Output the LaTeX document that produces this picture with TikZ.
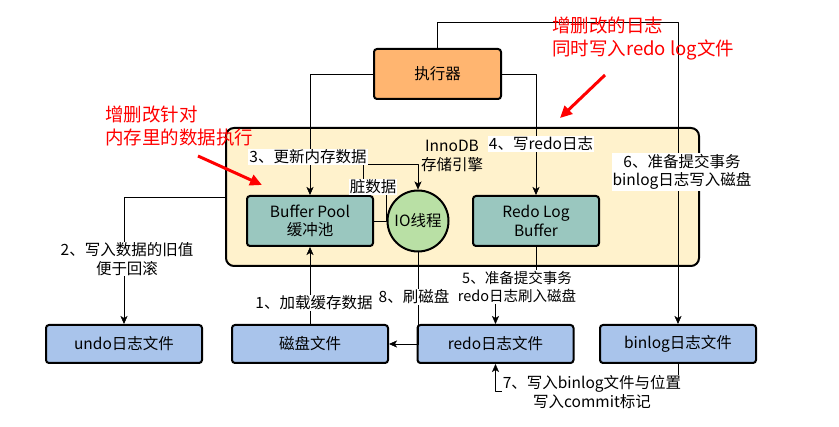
\documentclass[tikz,border=0pt]{standalone}
\usepackage{fontspec}
\setmainfont{Noto Sans CJK SC}
\usetikzlibrary{arrows.meta}
\definecolor{execfill}{HTML}{FFB570}
\definecolor{innofill}{HTML}{FFF2CC}
\definecolor{buffill}{HTML}{9AC7BF}
\definecolor{iofill}{HTML}{B9E0A5}
\definecolor{filefill}{HTML}{A9C4EB}
\tikzset{
  box/.style={draw, line width=2pt, rounded corners=3pt, align=center, inner sep=0pt},
  bufbox/.style={box, fill=buffill, minimum width=126, minimum height=50},
  filebox/.style={box, fill=filefill, minimum width=156, minimum height=38},
  lbl/.style={fill=white, inner sep=1pt, align=center},
  note/.style={text=red, align=left, inner sep=0pt, anchor=west, font=\fontsize{18.5}{23}\selectfont},
  redarr/.style={red, line width=3pt, -{Triangle[length=12pt,width=11pt]}},
}
\begin{document}
\begin{tikzpicture}[x=1pt,y=-1pt,>={Stealth[length=8pt,width=7pt,inset=2pt]},
    line join=round, font=\fontsize{15.5}{18.5}\selectfont]
  \useasboundingbox (0,0) rectangle (839,427);
  % storage engine block
  \node[box, fill=innofill, rounded corners=8pt, minimum width=473, minimum height=138] (inno) at (462.5,197) {};
  \node[align=center] (innotitle) at (452,156) {InnoDB\\存储引擎};
  \node[box, fill=execfill, minimum width=127, minimum height=50] (exec) at (437.5,74) {执行器};
  \node[bufbox] (pool) at (310,221) {Buffer Pool\\缓冲池};
  \node[bufbox] (rbuf) at (536,221) {Redo Log\\Buffer};
  \node[draw, line width=2pt, circle, fill=iofill, minimum size=61, inner sep=0pt] (io) at (418,221) {IO线程};
  % files
  \node[filebox] (undo) at (124,344) {undo日志文件};
  \node[filebox] (disk) at (310,344) {磁盘文件};
  \node[filebox] (redofile) at (495.5,344) {redo日志文件};
  \node[filebox] (binlog) at (678,344) {binlog日志文件};
  % connectors
  \draw[->] (exec.west) -| (pool.north);
  \draw[->] (exec.east) -| (rbuf.north);
  \draw[->] (exec.north) -- ++(0,-26) -| (binlog.north);
  \draw[->] (pool.east) -- (386,221) -- (386,187) -- (363,187) -- (363,164) -| (io.north);
  \draw[->] (inno.west) -| (undo.north);
  \draw[->] (disk.north) -- (pool.south);
  \draw[->] (io.south) |- (disk.east);
  \draw[->] (rbuf.south) -- ++(0,40) -| (redofile.north);
  \draw[->] (binlog.south) -- ++(0,27) -| (redofile.south);
  % labels
  \node[lbl] (l1) at (314,303) {1、加载缓存数据};
  \node[lbl] (l2) at (127,259) {2、写入数据的旧值\\便于回滚};
  \node[lbl] (l3) at (308,157) {3、更新内存数据};
  \node[lbl] (ldirty) at (373,187) {脏数据};
  \node[lbl] (l4) at (541,144) {4、写redo日志};
  \node[lbl, font=\fontsize{14.5}{18}\selectfont] (l5) at (517,287) {5、准备提交事务\\redo日志刷入磁盘};
  \node[lbl] (l6) at (682,172) {6、准备提交事务\\binlog日志写入磁盘};
  \node[lbl] (l7) at (592,392) {7、写入binlog文件与位置\\写入commit标记};
  \node[lbl] (l8) at (414,297) {8、刷磁盘};
  % red notes
  \node[note] (note1) at (552,39) {增删改的日志\\同时写入redo log文件};
  \node[note] (note2) at (105,126) {增删改针对\\内存里的数据执行};
  \draw[redarr] (605,75) -- (560,118);
  \draw[redarr] (198,156) -- (262,185);
\end{tikzpicture}
\end{document}
